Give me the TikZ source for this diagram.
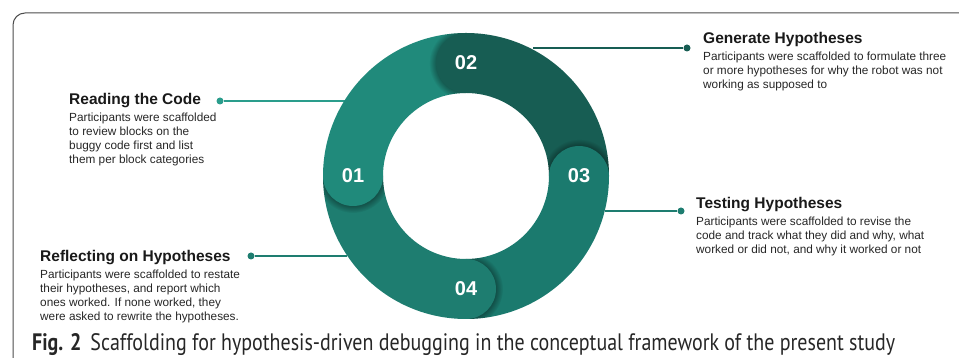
\documentclass[tikz,border=0pt]{standalone}
\usepackage{fontspec}
\usepackage{graphicx}
\setmainfont{Liberation Sans}
\newfontfamily\capfont{PT Sans}
\usetikzlibrary{positioning, fadings}

\definecolor{segA}{HTML}{208A7B}
\definecolor{segB}{HTML}{175D53}
\definecolor{segC}{HTML}{1B7A6E}
\definecolor{segD}{HTML}{1E7D70}
\definecolor{leadA}{HTML}{2A9D8C}

\tikzset{
    frame/.style={draw=black!70, line width=1pt, rounded corners=12pt},
    capdisc/.style={circle, minimum size=60pt, inner sep=0pt, text=white, font=\fontsize{20}{20}\selectfont\bfseries},
    title/.style={inner sep=0pt, anchor=base west, text=black!90, font=\fontsize{15.5}{17}\selectfont\bfseries},
    blurb/.style={inner sep=0pt, align=left, text=black!85, font=\fontsize{11.8}{14}\selectfont},
    dot/.style={circle, inner sep=0pt, minimum size=7pt},
    lead/.style={line width=1.3pt}
}

\begin{document}
\begin{tikzpicture}[x=1pt, y=1pt]
    \useasboundingbox (0,0) rectangle (959,358);
    \clip (0,0) rectangle (959,358);

    % panel border, open to the right and bottom
    \draw[frame] (13,-20) -- (13,345) -- (990,345);

    % ring geometry: centre, outer radius 143, inner radius 83
    \coordinate (ctr) at (466,182);
    \node[circle, minimum size=286pt, inner sep=0pt] (ring) at (ctr) {};

    % leader lines and end dots
    \node[dot, fill=leadA] (d1) at (220,257) {};
    \node[dot, fill=segB] (d2) at (687,310) {};
    \node[dot, fill=segD] (d3) at (681,147) {};
    \node[dot, fill=segD] (d4) at (251,102) {};
    \draw[lead, draw=leadA] (d1) -- (ring.148.4 |- d1);
    \draw[lead, draw=segB] (d2) -- (ring.62.2 |- d2);
    \draw[lead, draw=segD] (d3) -- (ring.-14.2 |- d3);
    \draw[lead, draw=segD] (d4) -- (ring.214.2 |- d4);

    % quarter bands, each one running clockwise from its start angle
    \foreach \s/\c in {180/segA, 90/segB, 0/segC, -90/segD} {
        \fill[\c] ([shift={(\s-90:143)}]ctr) arc[start angle=\s-90, end angle=\s, radius=143]
            -- ([shift={(\s:83)}]ctr) arc[start angle=\s, end angle=\s-90, radius=83] -- cycle;
    }

    % rounded heads with a soft shadow on the band before them
    \foreach \s/\c/\n in {180/segA/01, 90/segB/02, 0/segC/03, -90/segD/04} {
        \begin{scope}
            \clip ([shift={(\s:143)}]ctr) arc[start angle=\s, end angle=\s+45, radius=143]
                -- ([shift={(\s+45:83)}]ctr) arc[start angle=\s+45, end angle=\s, radius=83] -- cycle;
            \fill[black, opacity=.35, path fading=circle with fuzzy edge 20 percent]
                ([shift={(\s:113)}]ctr) circle[radius=37];
        \end{scope}
        \node[capdisc, fill=\c] (n\n) at ([shift={(\s:113)}]ctr) {\n};
    }

    % step texts
    \node[title] (read) at (69,253) {Reading the Code};
    \node[blurb, below=7.4pt of read.base west, anchor=north west] (readtxt)
        {Participants were scaffolded\\to review blocks on the\\buggy code first and list\\them per block categories};

    \node[title] (gen) at (703,314) {Generate Hypotheses};
    \node[blurb, below=7.4pt of gen.base west, anchor=north west] (gentxt)
        {Participants were scaffolded to formulate three\\or more hypotheses for why the robot was not\\working as supposed to};

    \node[title] (test) at (696,149) {Testing Hypotheses};
    \node[blurb, below=7.4pt of test.base west, anchor=north west] (testtxt)
        {Participants were scaffolded to revise the\\code and track what they did and why, what\\worked or did not, and why it worked or not};

    \node[title] (refl) at (40,96) {Reflecting on Hypotheses};
    \node[blurb, below=7.4pt of refl.base west, anchor=north west] (refltxt)
        {Participants were scaffolded to restate\\their hypotheses, and report which\\ones worked. If none worked, they\\were asked to rewrite the hypotheses.};

    % figure caption
    \node[inner sep=0pt, anchor=base west, text=black!85] (caption) at (32,7)
        {\resizebox{863pt}{17pt}{\capfont\fontsize{20}{24}\selectfont\textbf{Fig. 2}\hspace{0.45em}Scaffolding for hypothesis-driven debugging in the conceptual framework of the present study}};
\end{tikzpicture}
\end{document}
